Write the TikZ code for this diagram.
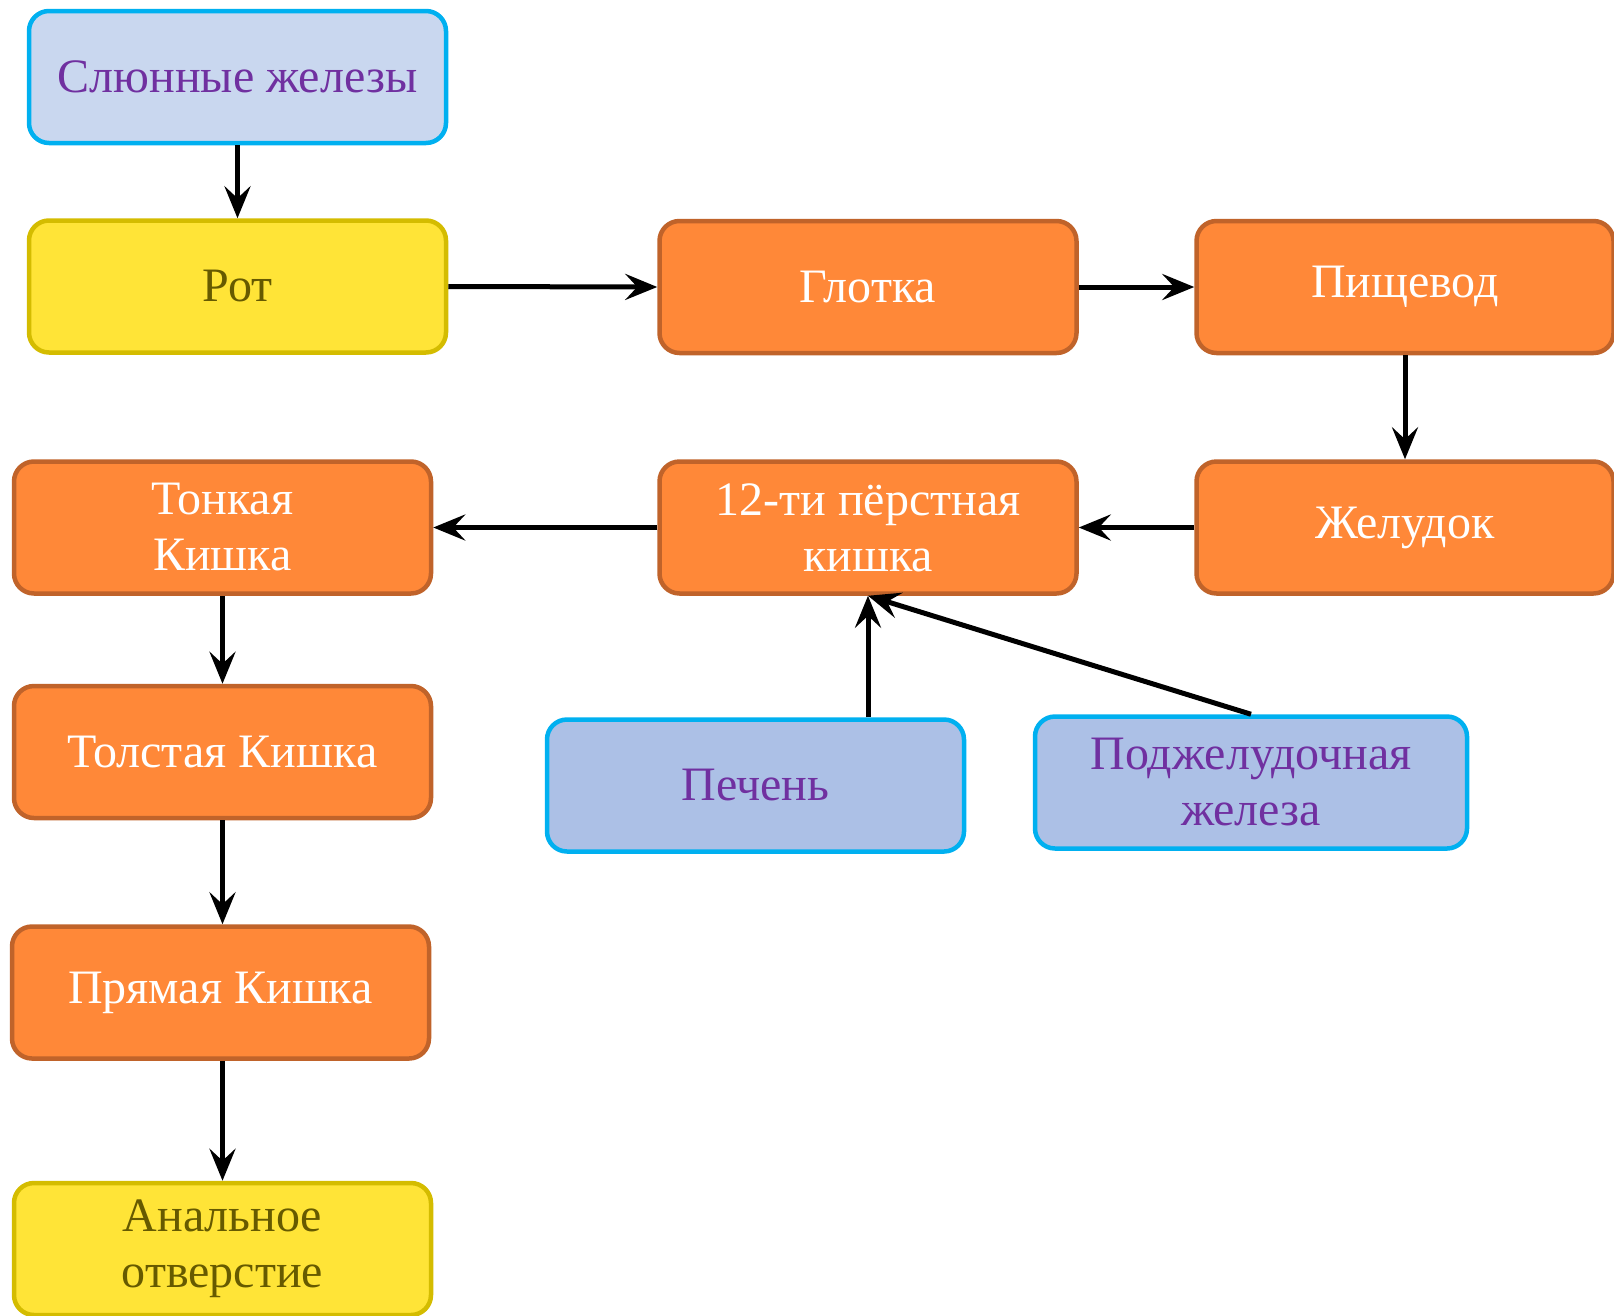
\documentclass[tikz,border=0pt]{standalone}
\usepackage{fontspec}
\setmainfont{Liberation Serif}
\usetikzlibrary{arrows.meta}
\definecolor{bluefill}{HTML}{C9D7EF}
\definecolor{bluefillb}{HTML}{ACC0E6}
\definecolor{blueline}{HTML}{00B0F0}
\definecolor{purpletext}{HTML}{7030A0}
\definecolor{yellowfill}{HTML}{FFE437}
\definecolor{yellowline}{HTML}{D4BC00}
\definecolor{yellowtext}{HTML}{665A00}
\definecolor{orangefill}{HTML}{FF8838}
\definecolor{orangeline}{HTML}{C0632A}
\begin{document}
\begin{tikzpicture}[x=1pt,y=-1pt,
  box/.style={rectangle, rounded corners=20pt, line width=4.5pt, minimum width=417pt, minimum height=132pt, inner sep=0pt, align=center, font=\fontsize{48}{56}\selectfont},
  orangebox/.style={box, fill=orangefill, draw=orangeline, text=white},
  yellowbox/.style={box, fill=yellowfill, draw=yellowline, text=yellowtext},
  bluebox/.style={box, fill=bluefillb, draw=blueline, text=purpletext},
  arr/.style={line width=5pt, -{Stealth[length=32pt,width=26pt,inset=12pt]}}]
\useasboundingbox (0,0) rectangle (1614,1315);
\node[bluebox, fill=bluefill] (sal) at (237.5,77) {Слюнные железы};
\node[yellowbox] (rot) at (237.5,286.5) {Рот};
\node[orangebox] (glot) at (868,287) {Глотка};
\node[orangebox] (pish) at (1405,287) {Пищевод};
\node[orangebox] (zhel) at (1405,527.5) {Желудок};
\node[orangebox] (duo) at (868,527.5) {12-ти пёрстная\\кишка};
\node[orangebox] (ton) at (222.5,527.5) {Тонкая\\Кишка};
\node[orangebox] (tol) at (222.5,752) {Толстая Кишка};
\node[orangebox] (pryam) at (220.5,992.5) {Прямая Кишка};
\node[yellowbox] (anal) at (222.5,1249) {Анальное\\отверстие};
\node[bluebox] (pech) at (755.5,785.5) {Печень};
\node[bluebox, minimum width=432pt] (podzh) at (1251,782.5) {Поджелудочная\\железа};
\draw[arr] (sal.south) -- (rot.north);
\draw[arr] (rot.east) -- (glot.west);
\draw[arr] (glot.east) -- (pish.west);
\draw[arr] (pish.south) -- (zhel.north);
\draw[arr] (zhel.west) -- (duo.east);
\draw[arr] (duo.west) -- (ton.east);
\draw[arr] (ton.south) -- (tol.north);
\draw[arr] (tol.south) -- (tol.south |- pryam.north);
\draw[arr] (pryam.south -| tol.south) -- (tol.south |- anal.north);
\draw[arr] (duo.south |- pech.north) -- (duo.south);
\draw[arr] (podzh.north) -- (duo.south);
\end{tikzpicture}
\end{document}
